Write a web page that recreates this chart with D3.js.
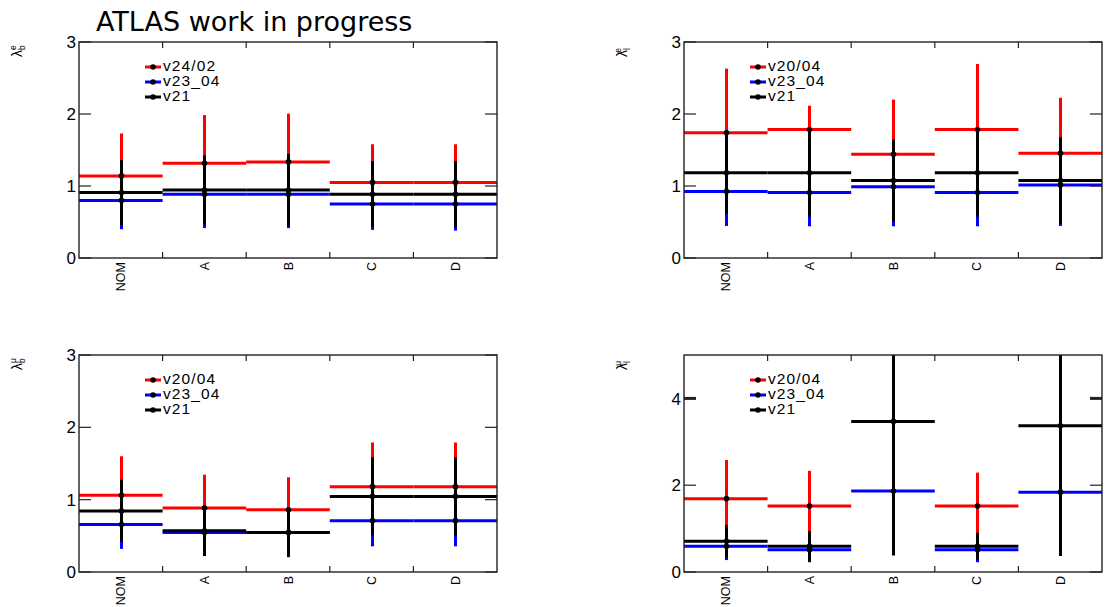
<!DOCTYPE html>
<html><head><meta charset="utf-8">
<script src="https://cdn.jsdelivr.net/npm/d3@7"></script>
<style>body{margin:0;background:#fff} svg{display:block}</style>
</head><body><svg id="c" width="1105" height="607"></svg>
<script>
// ---------------- data ----------------
const categories = ["NOM", "A", "B", "C", "D"];
const legendBE = ["v24/02", "v23_04", "v21"];
const legendRest = ["v20/04", "v23_04", "v21"];
const yTicks3 = [0, 1, 2, 3];
const yTicks5 = [0, 2, 4];

// lambda_b^e
const bE_red = [1.14, 1.315, 1.335, 1.05, 1.05];
const bE_redErr = [0.59, 0.67, 0.67, 0.53, 0.53];
const bE_blue = [0.80, 0.885, 0.885, 0.75, 0.75];
const bE_blueErr = [0.40, 0.47, 0.47, 0.36, 0.37];
const bE_black = [0.91, 0.945, 0.945, 0.885, 0.885];
const bE_blackErr = [0.45, 0.48, 0.50, 0.46, 0.46];

// lambda_l^e
const lE_red = [1.74, 1.785, 1.44, 1.785, 1.455];
const lE_redErr = [0.89, 0.33, 0.76, 0.91, 0.77];
const lE_blue = [0.925, 0.91, 0.99, 0.91, 1.015];
const lE_blueErr = [0.48, 0.47, 0.55, 0.47, 0.57];
const lE_black = [1.185, 1.185, 1.075, 1.185, 1.075];
const lE_blackErr = [0.57, 0.61, 0.57, 0.61, 0.60];

// lambda_b^mu
const bM_red = [1.06, 0.885, 0.86, 1.18, 1.18];
const bM_redErr = [0.54, 0.46, 0.45, 0.61, 0.61];
const bM_blue = [0.655, 0.545, 0.545, 0.71, 0.71];
const bM_blueErr = [0.335, 0.30, 0.30, 0.355, 0.355];
const bM_black = [0.845, 0.57, 0.545, 1.045, 1.045];
const bM_blackErr = [0.43, 0.35, 0.34, 0.54, 0.54];

// lambda_l^mu
const lM_red = [1.69, 1.52, null, 1.52, null];
const lM_redErr = [0.89, 0.81, null, 0.77, null];
const lM_blue = [0.595, 0.515, 1.865, 0.515, 1.84];
const lM_blueErr = [0.32, 0.29, 1.0, 0.29, 1.0];
const lM_black = [0.71, 0.595, 3.47, 0.595, 3.37];
const lM_blackErr = [0.37, 0.35, 3.09, 0.31, 3.0];

// ---------------- drawing ----------------
const RED = "#ff0000", BLUE = "#0000ff", BLACK = "#000000";
const svg = d3.select("#c");
const FONT = "'Liberation Sans', Arial, sans-serif";

svg.append("text").attr("x", 96).attr("y", 31)
  .attr("font-family", "'DejaVu Sans', sans-serif").attr("font-size", 27)
  .attr("fill", "#000").text("ATLAS work in progress");

const panels = [
  {id: "p1", x0: 79, x1: 497, y0: 42, y1: 258, ymax: 3, ticks: yTicks3, sub: "b", sup: "e", lx: 22, legend: legendBE,
   series: [[bE_red, bE_redErr, RED], [bE_blue, bE_blueErr, BLUE], [bE_black, bE_blackErr, BLACK]]},
  {id: "p2", x0: 684, x1: 1102, y0: 42, y1: 258, ymax: 3, ticks: yTicks3, sub: "l", sup: "e", lx: 627, legend: legendRest,
   series: [[lE_red, lE_redErr, RED], [lE_blue, lE_blueErr, BLUE], [lE_black, lE_blackErr, BLACK]]},
  {id: "p3", x0: 79, x1: 497, y0: 355, y1: 572, ymax: 3, ticks: yTicks3, sub: "b", sup: "\u03bc", lx: 22, legend: legendRest,
   series: [[bM_red, bM_redErr, RED], [bM_blue, bM_blueErr, BLUE], [bM_black, bM_blackErr, BLACK]]},
  {id: "p4", x0: 684, x1: 1102, y0: 355, y1: 572, ymax: 5, ticks: yTicks5, sub: "l", sup: "\u03bc", lx: 627, legend: legendRest, boldTick: 4,
   series: [[lM_red, lM_redErr, RED], [lM_blue, lM_blueErr, BLUE], [lM_black, lM_blackErr, BLACK]]}
];

const defs = svg.append("defs");

panels.forEach(p => {
  const x = d3.scaleBand().domain(categories).range([p.x0, p.x1]).padding(0);
  const y = d3.scaleLinear().domain([0, p.ymax]).range([p.y1, p.y0]);
  const cx = c => Math.round(x(c) + x.bandwidth() / 2) + 0.5;
  const g = svg.append("g");

  defs.append("clipPath").attr("id", "clip-" + p.id).append("rect")
    .attr("x", p.x0).attr("y", p.y0).attr("width", p.x1 - p.x0).attr("height", p.y1 - p.y0);

  // data
  const dg = g.append("g").attr("clip-path", `url(#clip-${p.id})`);
  p.series.forEach(([vals, errs, col]) => {
    const pts = categories.map((c, i) => ({c, v: vals[i], e: errs[i]})).filter(d => d.v != null);
    const sg = dg.append("g");
    sg.selectAll("line.h").data(pts).join("line").attr("class", "h")
      .attr("x1", d => x(d.c)).attr("x2", d => x(d.c) + x.bandwidth())
      .attr("y1", d => y(d.v)).attr("y2", d => y(d.v))
      .attr("stroke", col).attr("stroke-width", 3);
    sg.selectAll("line.v").data(pts).join("line").attr("class", "v")
      .attr("x1", d => cx(d.c)).attr("x2", d => cx(d.c))
      .attr("y1", d => y(d.v - d.e)).attr("y2", d => y(d.v + d.e))
      .attr("stroke", col).attr("stroke-width", 3);
    sg.selectAll("circle").data(pts).join("circle")
      .attr("cx", d => cx(d.c)).attr("cy", d => y(d.v))
      .attr("r", 2.8).attr("fill", "#000");
  });

  // frame
  g.append("rect").attr("x", p.x0).attr("y", p.y0).attr("width", p.x1 - p.x0).attr("height", p.y1 - p.y0)
    .attr("fill", "none").attr("stroke", "#222").attr("stroke-width", 1.4);

  // y ticks (inward both sides)
  p.ticks.forEach(t => {
    const w = (p.boldTick === t) ? 3 : 1.2;
    g.append("line").attr("x1", p.x0).attr("x2", p.x0 + 12).attr("y1", y(t)).attr("y2", y(t))
      .attr("stroke", "#222").attr("stroke-width", w);
    g.append("line").attr("x1", p.x1 - 12).attr("x2", p.x1).attr("y1", y(t)).attr("y2", y(t))
      .attr("stroke", "#222").attr("stroke-width", w);
    g.append("text").attr("x", p.x0 - 3).attr("y", y(t)).attr("dy", "0.36em")
      .attr("text-anchor", "end").attr("font-family", FONT).attr("font-size", 17)
      .attr("fill", "#000").text(t);
  });

  // x bin-edge ticks
  categories.slice(1).forEach(c => {
    const xx = x(c);
    g.append("line").attr("x1", xx).attr("x2", xx).attr("y1", p.y1).attr("y2", p.y1 - 6)
      .attr("stroke", "#222").attr("stroke-width", 1.2);
    g.append("line").attr("x1", xx).attr("x2", xx).attr("y1", p.y0).attr("y2", p.y0 + 6)
      .attr("stroke", "#222").attr("stroke-width", 1.2);
  });

  // x labels rotated
  categories.forEach(c => {
    const lx = x(c) + x.bandwidth() / 2 + 4.5;
    g.append("text").attr("transform", `translate(${lx},${p.y1 + 4}) rotate(-90)`)
      .attr("text-anchor", "end").attr("font-family", FONT).attr("font-size", 12.5)
      .attr("fill", "#000").text(c);
  });

  // y axis label lambda_sub^sup
  const t = g.append("text").attr("transform", `translate(${p.lx},${p.y0 + 15}) rotate(-90)`)
    .attr("font-family", FONT).attr("font-size", 14).attr("fill", "#000");
  t.append("tspan").text("\u03bb");
  t.append("tspan").attr("font-size", 8.5).attr("dy", 3).text(p.sub);
  t.append("tspan").attr("font-size", 8.5).attr("dx", -4.7).attr("dy", -9.5).text(p.sup);

  // legend
  const cols = [RED, BLUE, BLACK];
  const offs = [25, 40, 55];
  p.legend.forEach((name, i) => {
    const ly = p.y0 + offs[i];
    const lx = p.x0 + 66;
    g.append("line").attr("x1", lx).attr("x2", lx + 16).attr("y1", ly).attr("y2", ly)
      .attr("stroke", cols[i]).attr("stroke-width", 3);
    g.append("circle").attr("cx", lx + 8).attr("cy", ly).attr("r", 2.8).attr("fill", "#000");
    g.append("text").attr("x", lx + 18).attr("y", ly + 3.5)
      .attr("font-family", FONT).attr("font-size", 15.5).attr("letter-spacing", 1.1)
      .attr("fill", "#000").text(name);
  });
});
</script></body></html>
